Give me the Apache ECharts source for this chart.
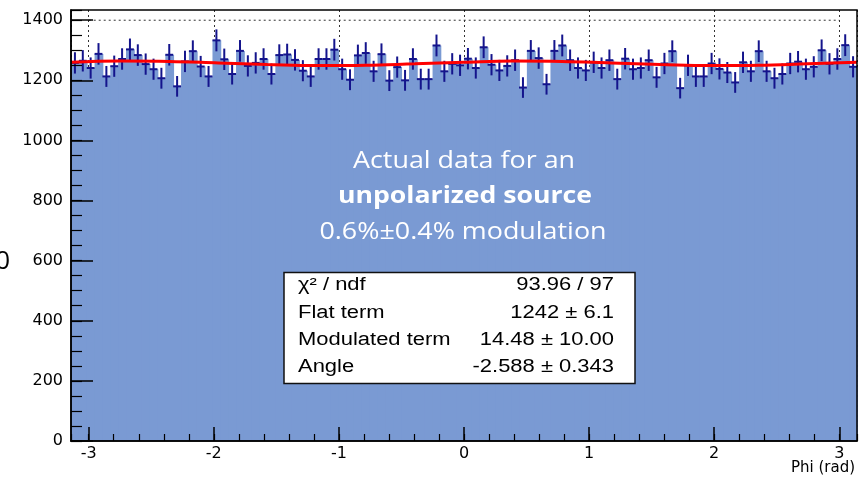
<!DOCTYPE html>
<html>
<head>
<meta charset="utf-8">
<script src="https://cdn.jsdelivr.net/npm/echarts@6/dist/echarts.min.js"></script>
<style>
html,body{margin:0;padding:0;background:#ffffff;}
#chart{width:864px;height:479px;}
</style>
</head>
<body>
<div id="chart"></div>
<script>
// ---- data ----
const PHI_MIN = -Math.PI;
const PHI_MAX = Math.PI;
const counts = [
  1258, 1265, 1241, 1288, 1213, 1247, 1271, 1303, 1284, 1254,
  1237, 1207, 1285, 1180, 1263, 1297, 1246, 1213, 1333, 1270,
  1221, 1298, 1248, 1258, 1271, 1221, 1284, 1286, 1268, 1232,
  1213, 1271, 1271, 1302, 1237, 1202, 1283, 1291, 1230, 1287,
  1199, 1244, 1200, 1271, 1204, 1204, 1316, 1230, 1255, 1250,
  1272, 1241, 1310, 1252, 1233, 1248, 1267, 1176, 1298, 1274,
  1187, 1298, 1316, 1267, 1241, 1233, 1260, 1241, 1267, 1204,
  1272, 1237, 1241, 1267, 1210, 1256, 1297, 1174, 1250, 1213,
  1213, 1256, 1238, 1226, 1193, 1260, 1230, 1297, 1230, 1207,
  1221, 1256, 1262, 1237, 1245, 1300, 1255, 1271, 1317, 1245
];
const fitPhi = [-3.1416, -2.7489, -2.3562, -1.9635, -1.5708, -1.1781, -0.7854, -0.3927, 0,
                0.3927, 0.7854, 1.1781, 1.5708, 1.9635, 2.3562, 2.7489, 3.1416];
const fitValues = [1260, 1264, 1263, 1258, 1253, 1249, 1250, 1255, 1260,
                   1264, 1263, 1258, 1253, 1249, 1250, 1255, 1260];
const gridLineY = 1400;
const gridLineX = [-3, 3];
const statsLabels = ['\u03C7\u00B2 / ndf', 'Flat term', 'Modulated term', 'Angle'];
const statsValues = ['93.96 / 97', '1242 \u00B1 6.1', '14.48 \u00B1 10.00', '-2.588 \u00B1 0.343'];
const noteLines = ['Actual data for an', 'unpolarized source', '0.6%\u00B10.4% modulation'];
const xAxisName = 'Phi (rad)';
const Y_MAX = 1434;

// ---- derived ----
const NBINS = counts.length;
const BW = (PHI_MAX - PHI_MIN) / NBINS;
const histData = counts.map((v, i) => [PHI_MIN + (i + 0.5) * BW, v]);
const fitData = fitPhi.map((x, i) => [x, fitValues[i]]);
const gridData = gridLineX.map(x => [x, gridLineY]);

const FILL = '#7a9ad3';
const ERR = '#14148c';
const FONT = 'DejaVu Sans';

function renderBar(params, api) {
  const c = api.value(0), v = api.value(1);
  const p0 = api.coord([c - BW / 2, v]);
  const p1 = api.coord([c + BW / 2, 0]);
  return {
    type: 'rect',
    shape: {x: p0[0], y: p0[1], width: p1[0] - p0[0] + 0.9, height: p1[1] - p0[1]},
    style: {fill: FILL}
  };
}
function renderErr(params, api) {
  const c = api.value(0), v = api.value(1), e = Math.sqrt(v);
  const t = api.coord([c, v + e]), b = api.coord([c, v - e]);
  const l = api.coord([c - BW / 2, v]), r = api.coord([c + BW / 2, v]);
  return {
    type: 'group',
    children: [
      {type: 'line', shape: {x1: t[0], y1: t[1], x2: b[0], y2: b[1]}, style: {stroke: ERR, lineWidth: 2}},
      {type: 'line', shape: {x1: l[0], y1: l[1], x2: r[0], y2: r[1]}, style: {stroke: ERR, lineWidth: 2}}
    ]
  };
}

const chart = echarts.init(document.getElementById('chart'), null, {renderer: 'canvas'});

const baseX = {type: 'value', min: PHI_MIN, max: PHI_MAX, position: 'bottom', gridIndex: 0};
const baseY = {type: 'value', min: 0, max: Y_MAX, position: 'left', gridIndex: 0};
const noLabel = {show: false};

const option = {
  animation: false,
  backgroundColor: '#ffffff',
  grid: {left: 71, right: 7, top: 10, bottom: 38, show: true, borderColor: '#000', borderWidth: 1.5,
         backgroundColor: 'transparent', z: 10, containLabel: false, outerBoundsMode: 'none'},
  xAxis: [
    Object.assign({}, baseX, {
      splitNumber: 6, z: 10,
      axisLine: {show: true, onZero: false, lineStyle: {color: '#000', width: 1.5}},
      axisTick: {show: true, inside: true, length: 14, lineStyle: {color: '#000', width: 1.5}},
      axisLabel: {show: true, showMinLabel: false, showMaxLabel: false, color: '#000',
                  fontFamily: FONT, fontSize: 16, margin: 5, formatter: v => String(v)},
      splitLine: {show: false}
    }),
    Object.assign({}, baseX, {
      splitNumber: 31, z: 10,
      axisLine: {show: false, onZero: false},
      axisTick: {show: true, inside: true, length: 7, lineStyle: {color: '#000', width: 1.2}},
      axisLabel: noLabel, splitLine: {show: false}
    }),
    Object.assign({}, baseX, {
      splitNumber: 6, z: 0,
      axisLine: {show: false, onZero: false}, axisTick: {show: false}, axisLabel: noLabel,
      splitLine: {show: true, lineStyle: {type: [2, 3], color: '#333', width: 1}}
    })
  ],
  yAxis: [
    Object.assign({}, baseY, {
      interval: 200, z: 10,
      axisLine: {show: true, onZero: false, lineStyle: {color: '#000', width: 1.5}},
      axisTick: {show: true, inside: true, length: 22, lineStyle: {color: '#000', width: 1.5}},
      axisLabel: {show: true, showMaxLabel: false, color: '#000', fontFamily: FONT, fontSize: 16,
                  margin: 8, formatter: v => String(v)},
      splitLine: {show: false}
    }),
    Object.assign({}, baseY, {
      interval: 50, z: 10,
      axisLine: {show: false, onZero: false},
      axisTick: {show: true, inside: true, length: 11, lineStyle: {color: '#000', width: 1.2}},
      axisLabel: noLabel, splitLine: {show: false}
    })
  ],
  series: [
    {type: 'line', name: 'grid1400', xAxisIndex: 0, yAxisIndex: 0, data: gridData, showSymbol: false,
     symbol: 'none', lineStyle: {type: [2, 3], color: '#333', width: 1}, z: 1, silent: true},
    {type: 'custom', name: 'hist', xAxisIndex: 0, yAxisIndex: 0, data: histData,
     encode: {x: 0, y: 1}, renderItem: renderBar, z: 2, silent: true},
    {type: 'custom', name: 'errors', xAxisIndex: 0, yAxisIndex: 0, data: histData,
     encode: {x: 0, y: 1}, renderItem: renderErr, z: 3, silent: true},
    {type: 'line', name: 'fit', xAxisIndex: 0, yAxisIndex: 0, data: fitData, smooth: 0.4,
     showSymbol: false, symbol: 'none', lineStyle: {color: '#ff0000', width: 3}, z: 4, silent: true}
  ],
  graphic: [
    {type: 'text', x: 855, y: 468, z: 100,
     style: {text: xAxisName, fill: '#000', font: '15px "DejaVu Sans"', textAlign: 'right', textVerticalAlign: 'middle'}},
    {type: 'text', x: 10, y: 262, z: 100,
     style: {text: '0', fill: '#000', font: '26px "Open Sans"', textAlign: 'right', textVerticalAlign: 'middle'}},
    {type: 'text', x: 464, y: 161, scaleX: 1.12, z: 100,
     style: {text: noteLines[0], fill: '#fff', font: '24px "Open Sans"', textAlign: 'center', textVerticalAlign: 'middle'}},
    {type: 'text', x: 465, y: 196.5, scaleX: 1.11, z: 100,
     style: {text: noteLines[1], fill: '#fff', font: 'bold 24px "Open Sans"', textAlign: 'center', textVerticalAlign: 'middle'}},
    {type: 'text', x: 463, y: 232.5, scaleX: 1.12, z: 100,
     style: {text: noteLines[2], fill: '#fff', font: '24px "Open Sans"', textAlign: 'center', textVerticalAlign: 'middle'}},
    {type: 'rect', z: 100, shape: {x: 284, y: 272.5, width: 351, height: 111},
     style: {fill: '#fff', stroke: '#111', lineWidth: 1.5}}
  ].concat(statsLabels.map((t, i) => ({
    type: 'text', x: 298, y: 285.5 + i * 27.3, scaleX: 1.22, z: 101,
    style: {text: t, fill: '#000', font: '18px "Liberation Sans"', textAlign: 'left', textVerticalAlign: 'middle'}
  }))).concat(statsValues.map((t, i) => ({
    type: 'text', x: 614, y: 285.5 + i * 27.3, scaleX: 1.22, z: 101,
    style: {text: t, fill: '#000', font: '18px "Liberation Sans"', textAlign: 'right', textVerticalAlign: 'middle'}
  })))
};
chart.setOption(option);
</script>
</body>
</html>
